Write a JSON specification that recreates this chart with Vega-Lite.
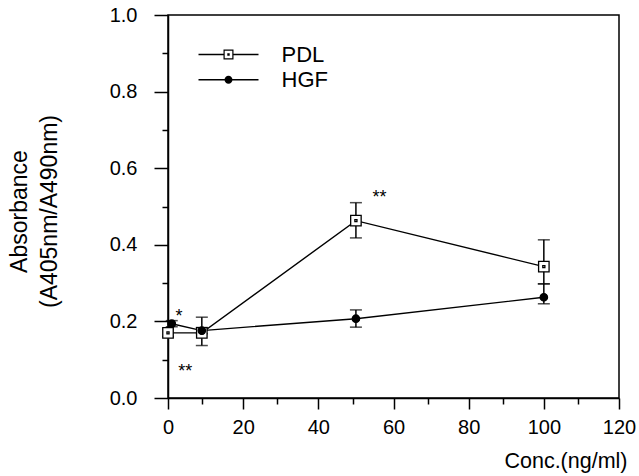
{
  "$schema": "https://vega.github.io/schema/vega-lite/v6.json",
  "width": 451,
  "height": 383,
  "autosize": "none",
  "padding": {"left": 168, "top": 15, "right": 20, "bottom": 78},
  "background": "white",
  "config": {
    "font": "Liberation Sans",
    "view": {"stroke": "black", "strokeWidth": 1.5},
    "axis": {
      "grid": false,
      "domainColor": "black",
      "domainWidth": 1.5,
      "tickColor": "black",
      "tickWidth": 1.5,
      "labelColor": "black",
      "titleColor": "black",
      "labelFont": "Liberation Sans",
      "titleFont": "Liberation Sans",
      "titleFontWeight": "normal"
    }
  },
  "resolve": {"scale": {"x": "independent", "y": "independent"}, "axis": {"x": "independent", "y": "independent"}},
  "datasets": {
    "pts": [
      {"series": "PDL", "x": 0, "y": 0.170, "lo": 0.160, "hi": 0.180},
      {"series": "PDL", "x": 9, "y": 0.170, "lo": 0.137, "hi": 0.211},
      {"series": "PDL", "x": 50, "y": 0.463, "lo": 0.418, "hi": 0.510},
      {"series": "PDL", "x": 100, "y": 0.343, "lo": 0.298, "hi": 0.413},
      {"series": "HGF", "x": 1, "y": 0.194, "lo": 0.186, "hi": 0.202},
      {"series": "HGF", "x": 9, "y": 0.176, "lo": 0.168, "hi": 0.184},
      {"series": "HGF", "x": 50, "y": 0.207, "lo": 0.185, "hi": 0.230},
      {"series": "HGF", "x": 100, "y": 0.263, "lo": 0.246, "hi": 0.298}
    ],
    "ann": [
      {"x": 2.9, "y": 0.199, "text": "*"},
      {"x": 4.6, "y": 0.056, "text": "**"},
      {"x": 56.3, "y": 0.51, "text": "**"}
    ]
  },
  "layer": [
    {
      "layer": [
        {
          "data": {"name": "pts"},
          "mark": {"type": "rule", "color": "black", "strokeWidth": 1.5},
          "encoding": {
            "x": {"field": "x", "type": "quantitative", "scale": {"domain": [0, 120], "nice": false, "zero": false},
              "axis": {
                "orient": "bottom",
                "values": [0, 20, 40, 60, 80, 100, 120],
                "format": "d",
                "tickSize": 11,
                "labelFontSize": 20,
                "labelPadding": 8,
                "labelFlush": false,
                "labelOverlap": false,
                "title": "Conc.(ng/ml)",
                "titleFontSize": 21.5,
                "titleAlign": "right",
                "titleBaseline": "alphabetic",
                "titleX": 459,
                "titleY": 69
              }
            },
            "y": {"field": "lo", "type": "quantitative", "scale": {"domain": [0, 1], "nice": false},
              "axis": {
                "orient": "left",
                "values": [0, 0.2, 0.4, 0.6, 0.8, 1.0],
                "format": ".1f",
                "tickSize": 14,
                "labelFontSize": 20,
                "labelPadding": 17,
                "labelFlush": false,
                "labelOverlap": false,
                "title": ["Absorbance", "(A405nm/A490nm)"],
                "titleFontSize": 23,
                "titleAngle": -90,
                "titleAlign": "center",
                "titleBaseline": "middle",
                "titleLineHeight": 30,
                "titleX": -149,
                "titleY": 196
              }
            },
            "y2": {"field": "hi"}
          }
        },
        {
          "data": {"name": "pts"},
          "mark": {"type": "tick", "orient": "horizontal", "color": "black", "size": 12, "thickness": 1.5},
          "encoding": {
            "x": {"field": "x", "type": "quantitative"},
            "y": {"field": "lo", "type": "quantitative"}
          }
        },
        {
          "data": {"name": "pts"},
          "mark": {"type": "tick", "orient": "horizontal", "color": "black", "size": 12, "thickness": 1.5},
          "encoding": {
            "x": {"field": "x", "type": "quantitative"},
            "y": {"field": "hi", "type": "quantitative"}
          }
        },
        {
          "data": {"name": "pts"},
          "mark": {"type": "line", "color": "black", "strokeWidth": 1.4},
          "encoding": {
            "x": {"field": "x", "type": "quantitative"},
            "y": {"field": "y", "type": "quantitative"},
            "order": {"field": "x"},
            "detail": {"field": "series"}
          }
        },
        {
          "data": {"name": "pts"},
          "mark": {"type": "point", "stroke": "black", "strokeWidth": 1.3, "opacity": 1, "fillOpacity": 1},
          "encoding": {
            "x": {"field": "x", "type": "quantitative"},
            "y": {"field": "y", "type": "quantitative"},
            "shape": {"condition": {"test": "datum.series === 'PDL'", "value": "M-1,-1H1V1H-1ZM-0.2,-0.2H0.2V0.2H-0.2Z"}, "value": "circle"},
            "fill": {"condition": {"test": "datum.series === 'PDL'", "value": "white"}, "value": "black"},
            "size": {"condition": {"test": "datum.series === 'PDL'", "value": 110}, "value": 55}
          }
        },
        {
          "data": {"name": "pts"},
          "mark": {"type": "point", "opacity": 0, "filled": true, "color": "black", "fill": "black", "stroke": "black"},
          "encoding": {
            "x": {"field": "x", "type": "quantitative"},
            "y": {"field": "y", "type": "quantitative"},
            "shape": {
              "field": "series", "type": "nominal",
              "scale": {"domain": ["PDL", "HGF"], "range": [
                "M-6,-0.14H-1V0.14H-6ZM1,-0.14H6V0.14H1ZM-1,-1H1V1H-1ZM-0.76,-0.76V0.76H0.76V-0.76ZM-0.24,-0.24H0.24V0.24H-0.24Z",
                "M-6,-0.14H6V0.14H-6ZM-0.8,0A0.8,0.8 0 1,1 0.8,0A0.8,0.8 0 1,1 -0.8,0Z"
              ]},
              "legend": {
                "orient": "none",
                "legendX": 49.5,
                "legendY": 28.5,
                "title": null,
                "padding": 0,
                "symbolSize": 100,
                "symbolOpacity": 1,
                "symbolFillColor": "black",
                "symbolStrokeColor": "black",
                "symbolStrokeWidth": 0,
                "labelOffset": 42,
                "labelFontSize": 22,
                "labelFont": "Liberation Sans",
                "labelColor": "black",
                "rowPadding": 3.2
              }
            }
          }
        },
        {
          "data": {"name": "ann"},
          "mark": {"type": "text", "fontSize": 18, "align": "center", "baseline": "alphabetic", "color": "black", "font": "Liberation Sans"},
          "encoding": {
            "x": {"field": "x", "type": "quantitative"},
            "y": {"field": "y", "type": "quantitative"},
            "text": {"field": "text"}
          }
        }
      ]
    },
    {
      "data": {"name": "pts"},
      "mark": {"type": "point", "opacity": 0},
      "encoding": {
        "x": {"field": "x", "type": "quantitative", "scale": {"domain": [0, 120], "nice": false, "zero": false},
          "axis": {"orient": "bottom", "values": [9.1, 29.1, 49.1, 69.1, 89.1, 109.1], "tickSize": 6, "labels": false, "domain": false, "title": null}
        },
        "y": {"field": "y", "type": "quantitative", "scale": {"domain": [0, 1], "nice": false},
          "axis": {"orient": "left", "values": [0.1, 0.3, 0.5, 0.7, 0.9], "tickSize": 6, "labels": false, "domain": false, "title": null}
        }
      }
    }
  ]
}
